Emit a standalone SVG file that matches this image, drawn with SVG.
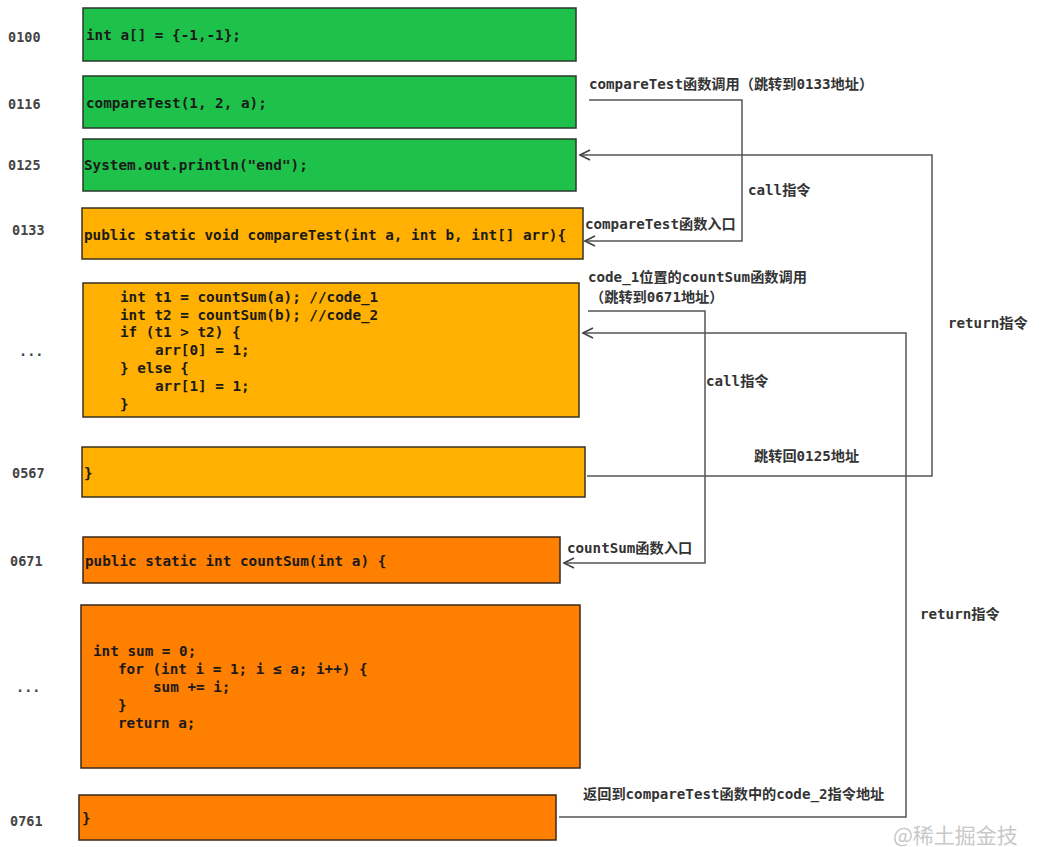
<svg xmlns="http://www.w3.org/2000/svg" width="1041" height="847" viewBox="0 0 1041 847">
<defs>
<style>
.g{fill:#1EC24A;stroke:#2a3a2a;stroke-width:1.5}
.o1{fill:#FFB000;stroke:#3a3020;stroke-width:1.5}
.o2{fill:#FF7F00;stroke:#3a2a1a;stroke-width:1.5}
.code{font-family:"DejaVu Sans Mono","Liberation Mono",monospace;font-size:14.3px;font-weight:bold;fill:#1a1a1a}
.addr{font-family:"DejaVu Sans Mono","Liberation Mono",monospace;font-size:13.5px;font-weight:bold;fill:#444}
.lbl{font-family:"DejaVu Sans Mono","Noto Sans CJK SC",monospace;font-size:14.2px;font-weight:bold;fill:#333}
.ln{fill:none;stroke:#555;stroke-width:1.5}
</style>
<marker id="arr" viewBox="0 0 12 12" refX="11" refY="6" markerWidth="12" markerHeight="12" markerUnits="userSpaceOnUse" orient="auto">
<path d="M1,1 L11,6 L1,11" fill="none" stroke="#444" stroke-width="1.6"/>
</marker>
</defs>
<rect width="1041" height="847" fill="#fff"/>

<g id="n0100">
<rect class="g" x="83" y="8" width="493" height="53"/>
<text class="code" x="86" y="40">int a[] = {-1,-1};</text>
<text class="addr" x="8" y="42">0100</text>
</g>
<g id="n0116">
<rect class="g" x="83" y="76" width="493" height="52"/>
<text class="code" x="86" y="108">compareTest(1, 2, a);</text>
<text class="addr" x="8" y="109">0116</text>
</g>
<g id="n0125">
<rect class="g" x="83" y="139" width="493" height="52"/>
<text class="code" x="84" y="170">System.out.println("end");</text>
<text class="addr" x="8" y="170">0125</text>
</g>
<g id="n0133">
<rect class="o1" x="82" y="208" width="501" height="51"/>
<text class="code" x="84" y="240">public static void compareTest(int a, int b, int[] arr){</text>
<text class="addr" x="12" y="235">0133</text>
</g>
<g id="nbody1">
<rect class="o1" x="83" y="283" width="496" height="134"/>
<text class="code" x="120" y="302">int t1 = countSum(a); //code_1</text>
<text class="code" x="120" y="320">int t2 = countSum(b); //code_2</text>
<text class="code" x="120" y="337">if (t1 &gt; t2) {</text>
<text class="code" x="155" y="355">arr[0] = 1;</text>
<text class="code" x="120" y="373">} else {</text>
<text class="code" x="155" y="391">arr[1] = 1;</text>
<text class="code" x="120" y="409">}</text>
<text class="addr" x="19" y="356">...</text>
</g>
<g id="n0567">
<rect class="o1" x="82" y="447" width="503" height="50"/>
<text class="code" x="84" y="478">}</text>
<text class="addr" x="12" y="478">0567</text>
</g>
<g id="n0671">
<rect class="o2" x="83" y="537" width="477" height="46"/>
<text class="code" x="85" y="566">public static int countSum(int a) {</text>
<text class="addr" x="10" y="566">0671</text>
</g>
<g id="nbody2">
<rect class="o2" x="81" y="605" width="499" height="163"/>
<text class="code" x="93" y="656">int sum = 0;</text>
<text class="code" x="118" y="674">for (int i = 1; i ≤ a; i++) {</text>
<text class="code" x="153" y="692">sum += i;</text>
<text class="code" x="118" y="710">}</text>
<text class="code" x="118" y="728">return a;</text>
<text class="addr" x="16" y="692">...</text>
</g>
<g id="n0761">
<rect class="o2" x="79" y="795" width="477" height="45"/>
<text class="code" x="82" y="823">}</text>
<text class="addr" x="10" y="826">0761</text>
</g>

<g id="connectors">
<path class="ln" d="M589,100 H742 V241 H585" marker-end="url(#arr)"/>
<path class="ln" d="M587,476 H932 V155 H580" marker-end="url(#arr)"/>
<path class="ln" d="M588,311 H705 V563 H564" marker-end="url(#arr)"/>
<path class="ln" d="M559,817 H906 V333 H583" marker-end="url(#arr)"/>
<text class="lbl" x="589" y="89">compareTest函数调用（跳转到0133地址）</text>
<text class="lbl" x="748" y="195">call指令</text>
<text class="lbl" x="585" y="229">compareTest函数入口</text>
<text class="lbl" x="948" y="328">return指令</text>
<text class="lbl" x="754" y="461">跳转回0125地址</text>
<text class="lbl" x="588" y="282">code_1位置的countSum函数调用</text>
<text class="lbl" x="590" y="302">（跳转到0671地址）</text>
<text class="lbl" x="706" y="386">call指令</text>
<text class="lbl" x="567" y="553">countSum函数入口</text>
<text class="lbl" x="920" y="619">return指令</text>
<text class="lbl" x="583" y="799">返回到compareTest函数中的code_2指令地址</text>
</g>
<text x="893" y="843" font-family="Noto Sans CJK SC,sans-serif" font-size="21" fill="#c8c8c8">@稀土掘金技</text>
</svg>
